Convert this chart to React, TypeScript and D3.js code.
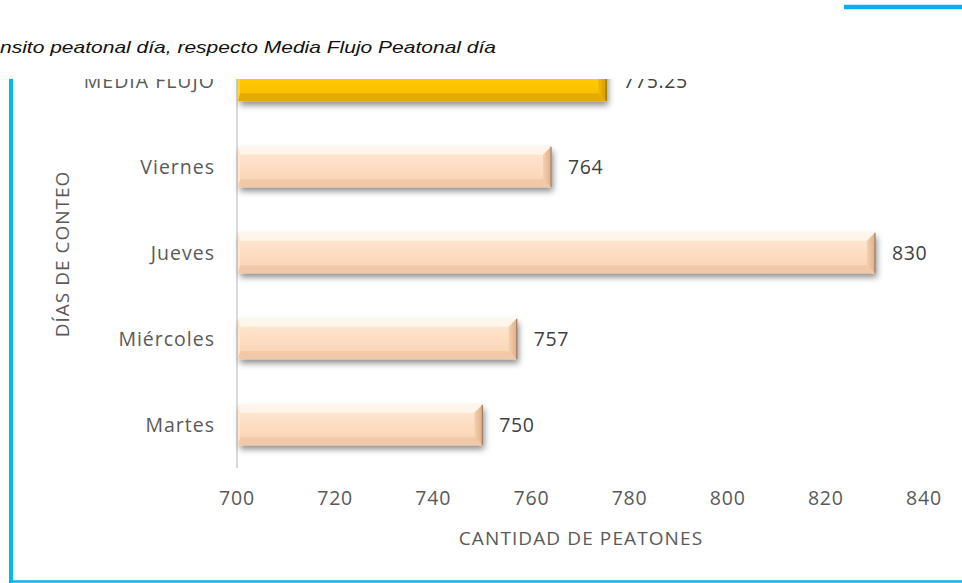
import React from "react";
import * as d3 from "d3";

const categories = ["MEDIA FLUJO", "Viernes", "Jueves", "Miércoles", "Martes"];
const values = [775.25, 764, 830, 757, 750];
const valueLabels = ["775.25", "764", "830", "757", "750"];
const highlight = [true, false, false, false, false];
const xTicks = [700, 720, 740, 760, 780, 800, 820, 840];
const titleText = "nsito peatonal día, respecto Media Flujo Peatonal día";

const W = 962;
const H = 583;
const FONT = "'Open Sans', Lato, sans-serif";

export default function App() {
  const x = d3.scaleLinear().domain([700, 840]).range([237, 924]);
  const y = d3
    .scaleBand<string>()
    .domain(categories)
    .range([38, 468])
    .paddingInner(0.53)
    .paddingOuter(0.265);
  const bh = y.bandwidth();
  const bev = 8;

  return (
    <svg
      width={W}
      height={H}
      style={{ position: "absolute", left: 0, top: 0, background: "#fff" }}
    >
      <defs>
        <clipPath id="plotClip">
          <rect x={13} y={79} width={W} height={H} />
        </clipPath>
        <filter id="shadow" x="-10%" y="-40%" width="120%" height="200%">
          <feDropShadow dx="2" dy="4" stdDeviation="3" floodColor="#000" floodOpacity="0.45" />
        </filter>
        <linearGradient id="peach" x1="0" y1="0" x2="0" y2="1">
          <stop offset="0" stopColor="#FEE9D6" />
          <stop offset="0.5" stopColor="#FDDDC1" />
          <stop offset="1" stopColor="#F9D2B2" />
        </linearGradient>
        <linearGradient id="gold" x1="0" y1="0" x2="0" y2="1">
          <stop offset="0" stopColor="#FFD21F" />
          <stop offset="0.5" stopColor="#FFC800" />
          <stop offset="1" stopColor="#F5BC00" />
        </linearGradient>
        <linearGradient id="rightPeach" x1="0" y1="0" x2="1" y2="0">
          <stop offset="0" stopColor="#F6D0B0" />
          <stop offset="1" stopColor="#DDB08D" />
        </linearGradient>
        <linearGradient id="rightGold" x1="0" y1="0" x2="1" y2="0">
          <stop offset="0" stopColor="#F2B800" />
          <stop offset="1" stopColor="#D09C00" />
        </linearGradient>
      </defs>

      {/* frame lines */}
      <line x1={844} x2={962} y1={7} y2={7} stroke="#00B0F0" strokeWidth={4.5} />
      <line x1={11} x2={11} y1={79} y2={583} stroke="#00B8F5" strokeWidth={4} />
      <line x1={9} x2={962} y1={581.5} y2={581.5} stroke="#00B8F5" strokeWidth={2.5} />

      {/* title (visible part) */}
      <text
        x={0}
        y={53}
        fontFamily="'Liberation Sans', Arial, sans-serif"
        fontStyle="italic"
        fontSize={17}
        fill="#111"
        textLength={496}
        lengthAdjust="spacingAndGlyphs"
      >
        {titleText}
      </text>

      <g clipPath="url(#plotClip)">
        {/* axis line */}
        <line x1={x(700)} x2={x(700)} y1={38} y2={468} stroke="#D9D9D9" strokeWidth={2} />

        {categories.map((c, i) => {
          const y0 = y(c)!;
          const x0 = x(700) + 1;
          const x1 = x(values[i]);
          const w = x1 - x0;
          const hl = highlight[i];
          const topC = hl ? "#FFDB4D" : "#FFF6EC";
          const botC = hl ? "#E0A800" : "#EFC7A6";
          const leftC = hl ? "#FFD633" : "#FEE6D1";
          return (
            <g key={c}>
              <g filter="url(#shadow)">
                <rect x={x0} y={y0} width={w} height={bh} fill={hl ? "url(#gold)" : "url(#peach)"} />
              </g>
              <polygon
                points={`${x0},${y0} ${x1},${y0} ${x1 - bev},${y0 + bev} ${x0 + 2},${y0 + bev}`}
                fill={topC}
                opacity={0.9}
              />
              <polygon
                points={`${x1},${y0} ${x1},${y0 + bh} ${x1 - bev},${y0 + bh - bev} ${x1 - bev},${y0 + bev}`}
                fill={hl ? "url(#rightGold)" : "url(#rightPeach)"}
              />
              <polygon
                points={`${x0},${y0 + bh} ${x1},${y0 + bh} ${x1 - bev},${y0 + bh - bev} ${x0 + 2},${y0 + bh - bev}`}
                fill={botC}
                opacity={0.85}
              />
              <polygon
                points={`${x0},${y0} ${x0 + 2},${y0 + bev} ${x0 + 2},${y0 + bh - bev} ${x0},${y0 + bh}`}
                fill={leftC}
              />
              <line
                x1={x1}
                x2={x1}
                y1={y0}
                y2={y0 + bh}
                stroke={hl ? "#9C7600" : "#A07E62"}
                strokeWidth={1.2}
              />
              <text
                x={x1 + 17}
                y={y0 + bh / 2}
                dy="0.35em"
                fontFamily={FONT}
                fontSize={19.5}
                letterSpacing={0.6}
                fill="#404040"
              >
                {valueLabels[i]}
              </text>
              <text
                x={215}
                y={y0 + bh / 2}
                dy="0.35em"
                textAnchor="end"
                fontFamily={FONT}
                fontSize={19.5}
                letterSpacing={1}
                fill="#595959"
              >
                {c}
              </text>
            </g>
          );
        })}
      </g>

      {/* x tick labels */}
      {xTicks.map((t) => (
        <text
          key={t}
          x={x(t)}
          y={498}
          dy="0.35em"
          textAnchor="middle"
          fontFamily={FONT}
          fontSize={19.5}
          letterSpacing={0.8}
          fill="#595959"
        >
          {t}
        </text>
      ))}

      {/* axis titles */}
      <text
        x={581}
        y={538}
        dy="0.35em"
        textAnchor="middle"
        fontFamily={FONT}
        fontSize={19}
        letterSpacing={1.1}
        fill="#595959"
      >
        CANTIDAD DE PEATONES
      </text>
      <text
        transform={`translate(62,254) rotate(-90)`}
        dy="0.35em"
        textAnchor="middle"
        fontFamily={FONT}
        fontSize={19}
        letterSpacing={1}
        fill="#595959"
      >
        DÍAS DE CONTEO
      </text>
    </svg>
  );
}
